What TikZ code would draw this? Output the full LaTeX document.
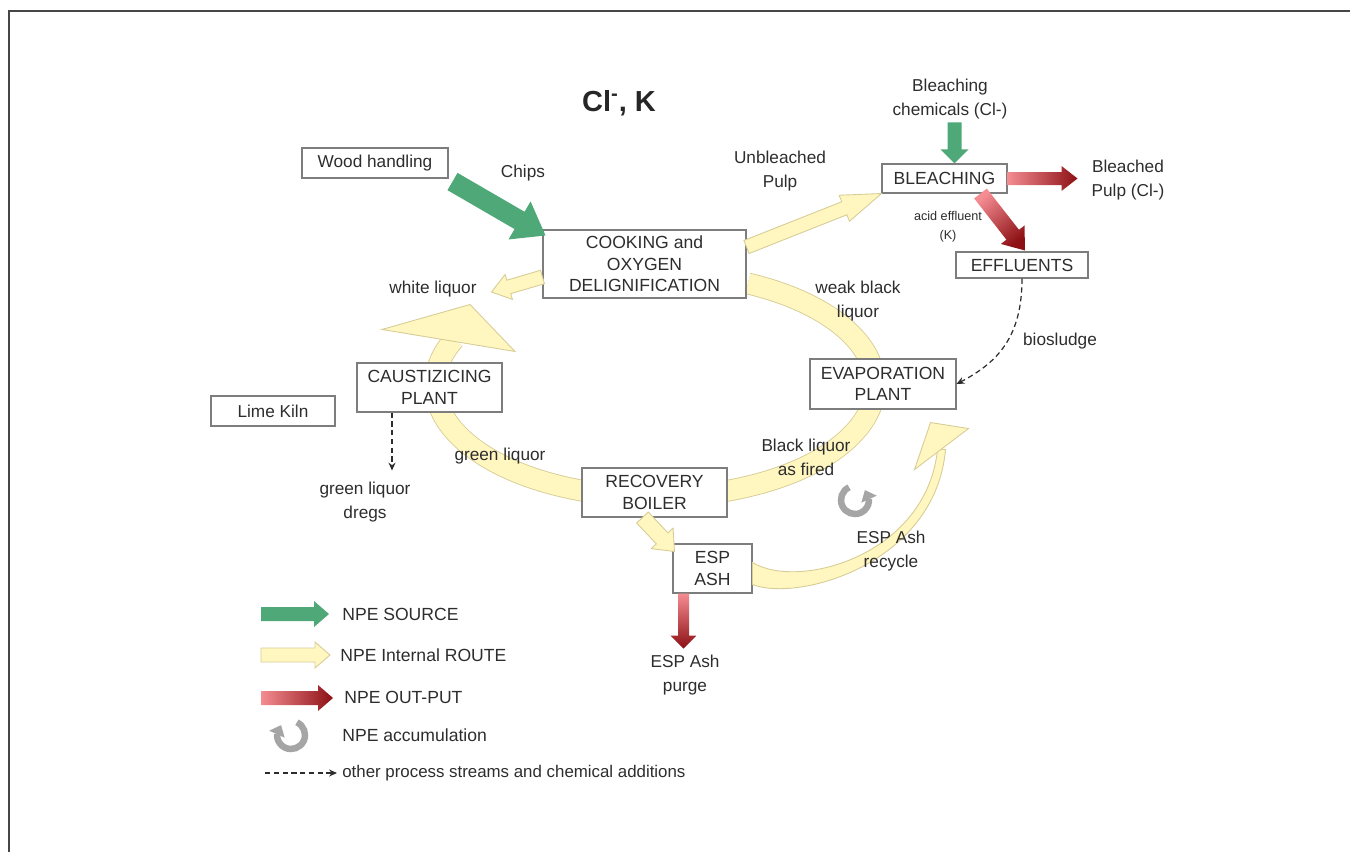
\documentclass[tikz,border=0pt]{standalone}
\usepackage{fontspec}
\setmainfont{Liberation Sans}
\usetikzlibrary{arrows.meta,bending,calc}

\definecolor{src_green}{RGB}{79,168,119}
\definecolor{route_fill}{RGB}{255,246,192}
\definecolor{route_edge}{RGB}{214,204,150}
\definecolor{out_light}{RGB}{244,140,146}
\definecolor{out_dark}{RGB}{140,16,20}
\definecolor{box_line}{RGB}{125,125,125}
\definecolor{txt}{RGB}{45,45,45}
\definecolor{acc_gray}{RGB}{165,165,165}
\definecolor{frame_gray}{RGB}{70,70,70}

% block arrow: style, from, to, shaft half width, head half width, head length
\newcommand{\blockarrow}[6]{%
  \coordinate (ba-h) at ($(#3)!#6!(#2)$);
  \path[#1] ($(#2)!#4!90:(#3)$) -- ($(ba-h)!#4!-90:(#2)$) -- ($(ba-h)!#5!-90:(#2)$) -- (#3)
    -- ($(ba-h)!#5!90:(#2)$) -- ($(ba-h)!#4!90:(#2)$) -- ($(#2)!#4!-90:(#3)$) -- cycle;
}

\begin{document}
\begin{tikzpicture}[x=0.02cm, y=-0.02cm]
        \tikzset{
            box/.style={
                draw=box_line,
                fill=white,
                line width=0.6pt,
                align=center,
                text=txt,
                inner sep=0pt,
                font=\fontsize{10}{12.2}\selectfont
            },
            lbl/.style={
                align=center,
                text=txt,
                inner sep=0pt,
                font=\fontsize{9.8}{13.6}\selectfont
            },
            legtext/.style={
                anchor=west,
                text=txt,
                inner sep=0pt,
                font=\fontsize{10}{12}\selectfont
            },
            srcflow/.style={fill=src_green},
            routeflow/.style={fill=route_fill, draw=route_edge, line width=0.5pt},
            routeband/.style={draw=route_edge, line width=0.5pt, double=route_fill, double distance=#1},
            outflow/.style={top color=out_light, bottom color=out_dark, shading angle=#1},
            accum/.style={draw=acc_gray, line width=0.13cm,
                -{Triangle[width=0.34cm,length=0.2cm,line width=0pt]}},
            otherflow/.style={draw=txt, line width=0.7pt, dash pattern=on 3pt off 2pt,
                -{Stealth[length=4.5pt,width=4pt]}}
        }
        \useasboundingbox (0,0) rectangle (1350,852);
        \draw[frame_gray, line width=1.2pt] (9,852) -- (9,11) -- (1350,11);

        % liquor ring
        \coordinate (ring) at (655,385);
        \draw[routeband=0.4cm] ($(ring)+(-65:220 and 112)$) arc[start angle=-65, end angle=204, x radius=220, y radius=112];

        %boxes
        \node[box, minimum width=2.92cm, minimum height=0.6cm, font=\fontsize{9.8}{12}\selectfont] (wood) at (375,163) {Wood handling};
        \node[box, minimum width=4.06cm, minimum height=1.36cm] (cook) at (644.5,264) {COOKING and\\OXYGEN\\DELIGNIFICATION};
        \node[box, minimum width=2.5cm, minimum height=0.58cm] (bleach) at (944.5,178.5) {BLEACHING};
        \node[box, minimum width=2.64cm, minimum height=0.52cm] (effl) at (1022,265) {EFFLUENTS};
        \node[box, minimum width=2.9cm, minimum height=0.98cm] (caust) at (429.5,387.5) {CAUSTIZICING\\PLANT};
        \node[box, minimum width=2.48cm, minimum height=0.6cm, font=\fontsize{9.8}{12}\selectfont] (lime) at (273,411) {Lime Kiln};
        \node[box, minimum width=2.92cm, minimum height=1.0cm] (evap) at (883,384) {EVAPORATION\\PLANT};
        \node[box, minimum width=2.9cm, minimum height=0.98cm] (recov) at (654.5,492.5) {RECOVERY\\BOILER};
        \node[box, minimum width=1.58cm, minimum height=0.98cm] (espash) at (712.5,568.5) {ESP\\ASH};

        % head of ring
        \path[routeflow] ($(caust.north)+(-47.5,-33)$) -- ($(caust.north)+(40.5,-58)$) -- ($(caust.north)+(85.5,-11)$) -- cycle;

        %arrows
        \coordinate (chips-s) at ($(wood.south east)+(4,3)$);
        \coordinate (chips-t) at ($(cook.north west)+(3,6)$);
        \blockarrow{srcflow}{chips-s}{chips-t}{0.2cm}{0.44cm}{0.6cm}

        \coordinate (bc-s) at ($(bleach.north)+(10,-41)$);
        \coordinate (bc-t) at ($(bleach.north)+(10,0)$);
        \blockarrow{srcflow}{bc-s}{bc-t}{0.14cm}{0.28cm}{0.28cm}

        \coordinate (unbl-s) at ($(cook.east)+(0,-17)$);
        \blockarrow{routeflow}{unbl-s}{bleach.south west}{0.14cm}{0.28cm}{0.8cm}

        \coordinate (wl-s) at ($(cook.west)+(0,13)$);
        \coordinate (wl-t) at ($(cook.west)+(-51,28)$);
        \blockarrow{routeflow}{wl-s}{wl-t}{0.14cm}{0.26cm}{0.36cm}

        \coordinate (re-s) at ($(recov.south)+(-12,0)$);
        \coordinate (re-t) at ($(espash.north west)+(2,8)$);
        \blockarrow{routeflow}{re-s}{re-t}{0.16cm}{0.3cm}{0.36cm}

        \coordinate (bp-t) at ($(bleach.east)+(70,0)$);
        \blockarrow{outflow=90}{bleach.east}{bp-t}{0.13cm}{0.25cm}{0.32cm}

        \coordinate (ae-s) at ($(bleach.south)+(36,0)$);
        \coordinate (ae-t) at ($(effl.north)+(3,-1)$);
        \blockarrow{outflow=40}{ae-s}{ae-t}{0.16cm}{0.3cm}{0.4cm}

        \coordinate (pg-s) at ($(espash.south)+(-29,0)$);
        \coordinate (pg-t) at ($(espash.south)+(-29,55)$);
        \blockarrow{outflow=0}{pg-s}{pg-t}{0.11cm}{0.26cm}{0.26cm}

        % ESP ash recycle
        \coordinate (rc-a) at ($(espash.east)+(0,-6)$);
        \coordinate (rc-b) at ($(espash.east)+(0,16)$);
        \coordinate (rc-e) at ($(evap.south east)+(-15,40)$);
        \path[routeflow] (rc-a) .. controls +(46,28) and +(-11,106) .. ($(rc-e)+(-4,0)$) -- ($(rc-e)+(4,0)$)
            .. controls +(-10,114) and +(46,18) .. (rc-b) -- cycle;
        \path[routeflow] ($(rc-e)+(-11,-27)$) -- ($(rc-e)+(27,-21)$) -- ($(rc-e)+(-27,20)$) -- cycle;

        %dashed streams
        \draw[otherflow] (effl.south) .. controls +(0,60) and +(40,-20) .. (evap.east);
        \coordinate (dr-t) at ($(caust.south)+(-37.5,58)$);
        \draw[otherflow] (caust.south -| dr-t) -- (dr-t);

        %accumulation
        \coordinate (acc) at (855,500);
        \draw[accum] ($(acc)+(-115:14)$) arc[start angle=-115, end angle=-405, radius=14];

        %labels
        \node[font=\bfseries\fontsize{16.5}{18}\selectfont, text=black!85] (title) at (619,103) {Cl\textsuperscript{-}, K};
        \node[lbl] (chips) at (523,173) {Chips};
        \node[lbl] (unbl) at (780,171) {Unbleached\\Pulp};
        \node[lbl] (bchem) at (950,99) {Bleaching\\chemicals (Cl-)};
        \node[lbl] (bpulp) at (1128,180) {Bleached\\Pulp (Cl-)};
        \node[lbl, font=\fontsize{7.2}{10.8}\selectfont] (acid) at (948,227) {acid effluent\\(K)};
        \node[lbl] (weak) at (858,301) {weak black\\liquor};
        \node[lbl] (bios) at (1060,341) {biosludge};
        \node[lbl] (white) at (433,289) {white liquor};
        \node[lbl] (green) at (500,456) {green liquor};
        \node[lbl] (dregs) at (365,502) {green liquor\\dregs};
        \node[lbl] (blfired) at (806,457) {Black liquor\\as fired};
        \node[lbl] (recyc) at (891,551) {ESP Ash\\recycle};
        \node[lbl] (purge) at (685,675) {ESP Ash\\purge};

        %legend
        \coordinate (lg1a) at (261,614);
        \coordinate (lg1b) at (329,614);
        \blockarrow{srcflow}{lg1a}{lg1b}{0.14cm}{0.26cm}{0.3cm}
        \node[legtext] (leg-src) at (342,614) {NPE SOURCE};

        \coordinate (lg2a) at (261,655);
        \coordinate (lg2b) at (330,655);
        \blockarrow{routeflow}{lg2a}{lg2b}{0.14cm}{0.26cm}{0.3cm}
        \node[legtext] (leg-route) at (340,655) {NPE Internal ROUTE};

        \coordinate (lg3a) at (261,698);
        \coordinate (lg3b) at (333,698);
        \blockarrow{outflow=90}{lg3a}{lg3b}{0.14cm}{0.26cm}{0.3cm}
        \node[legtext] (leg-out) at (344,697) {NPE OUT-PUT};

        \coordinate (acc-leg) at (291,735);
        \draw[accum] ($(acc-leg)+(-65:14)$) arc[start angle=-65, end angle=225, radius=14];
        \node[legtext] (leg-acc) at (342,735) {NPE accumulation};

        \coordinate (lg5a) at (265,773);
        \coordinate (lg5b) at (337,773);
        \draw[otherflow] (lg5a) -- (lg5b);
        \node[legtext, font=\fontsize{9.6}{12}\selectfont] (leg-other) at (342,773) {other process streams and chemical additions};

\end{tikzpicture}
\end{document}
